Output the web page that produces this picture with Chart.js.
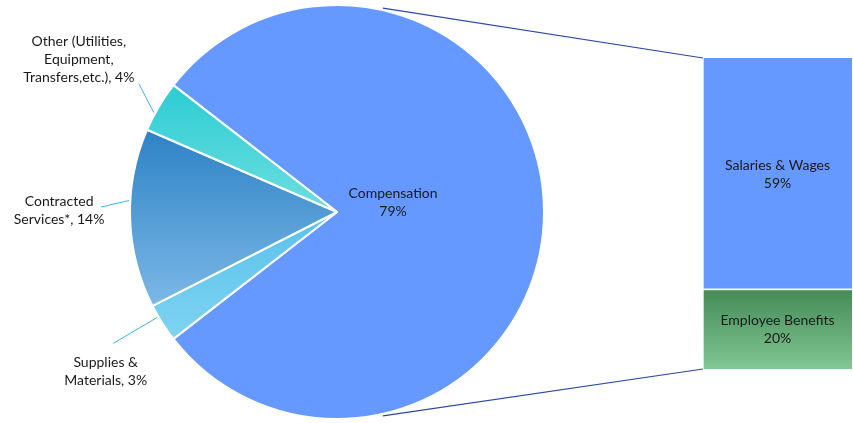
<!DOCTYPE html>
<html>
<head>
<meta charset="utf-8">
<script src="https://cdn.jsdelivr.net/npm/chart.js@4.4.0/dist/chart.umd.min.js"></script>
<style>
  html, body { margin: 0; padding: 0; background: #fff; }
  #wrap { position: relative; width: 853px; height: 423px; }
  #pie { position: absolute; left: 0; top: 0; }
  #bar { position: absolute; left: 703px; top: 58px; }
</style>
</head>
<body>
<div id="wrap">
  <canvas id="pie" width="853" height="423"></canvas>
  <canvas id="bar" width="149" height="311"></canvas>
</div>
<script>
// pie data
const pieLabels = ['Compensation', 'Supplies & Materials', 'Contracted Services*', 'Other (Utilities, Equipment, Transfers,etc.)'];
const pieValues = [79, 3, 14, 4];
const pieLabelLines = [
    ['Compensation', '79%'],
    ['Supplies &', 'Materials, 3%'],
    ['Contracted', 'Services*, 14%'],
    ['Other (Utilities,', 'Equipment,', 'Transfers,etc.), 4%']
];

// bar (breakdown of Compensation) data
const barLabels = ['Employee Benefits', 'Salaries & Wages'];
const barValues = [20, 59];
const barLabelLines = [
    ['Employee Benefits', '20%'],
    ['Salaries & Wages', '59%']
];

const FONT = '14px Lato, "Open Sans", sans-serif';
const TEXT = '#1a1a1a';
const LINE_H = 18;

// [top colour, bottom colour] per slice
const pieColors = [
    ['#6699ff', '#6699ff'],
    ['#58c1ea', '#7fd3f2'],
    ['#2d82c5', '#7cb8e6'],
    ['#2bccd3', '#6edee0']
];
const barColors = [
    ['#458b57', '#80c793'],
    ['#6699ff', '#6699ff']
];

// label placement relative to the slice edge point: text centre, leader start and end
const pieLabelPos = [
    { text: [56, -9.5], inside: true },
    { text: [-56.5, 48.5], leader: [-49, 20.5], end: [-5, -5.5] },
    { text: [-71, -8.5], leader: [-29, -11.5], end: [-1, -18] },
    { text: [-80, -47], leader: [-20, -23], end: [-5, 6] }
];

const total = pieValues.reduce((a, b) => a + b, 0);
const rotation = 90 - pieValues[0] / total * 180;

function drawLines(ctx, lines, cx, cy) {
    ctx.save();
    ctx.font = FONT;
    ctx.fillStyle = TEXT;
    ctx.textAlign = 'center';
    ctx.textBaseline = 'middle';
    const y0 = cy - (lines.length - 1) * LINE_H / 2;
    lines.forEach((t, i) => ctx.fillText(t, cx, y0 + i * LINE_H));
    ctx.restore();
}

function sliceGradient(context) {
    const chart = context.chart;
    const i = context.dataIndex;
    const area = chart.chartArea;
    if (!area || i === undefined) return pieColors[i || 0][0];
    const cx = (area.left + area.right) / 2;
    const cy = (area.top + area.bottom) / 2;
    const r = Math.min(area.right - area.left, area.bottom - area.top) / 2;
    let before = 0;
    for (let k = 0; k < i; k++) before += pieValues[k];
    const s = (rotation - 90) * Math.PI / 180 + before / total * Math.PI * 2;
    const e = s + pieValues[i] / total * Math.PI * 2;
    let minY = cy, maxY = cy;
    for (let k = 0; k <= 40; k++) {
        const y = cy + r * Math.sin(s + (e - s) * k / 40);
        minY = Math.min(minY, y);
        maxY = Math.max(maxY, y);
    }
    const g = chart.ctx.createLinearGradient(0, minY, 0, maxY);
    g.addColorStop(0, pieColors[i][0]);
    g.addColorStop(1, pieColors[i][1]);
    return g;
}

const barLabelPlugin = {
    id: 'barLabels',
    afterDatasetsDraw(chart) {
        chart.data.datasets.forEach((ds, i) => {
            const el = chart.getDatasetMeta(i).data[0];
            drawLines(chart.ctx, barLabelLines[i], el.x, (el.y + el.base) / 2);
        });
    }
};

const barChart = new Chart(document.getElementById('bar'), {
    type: 'bar',
    data: {
        labels: ['Compensation'],
        datasets: barLabels.map((name, i) => ({
            label: name,
            data: [barValues[i]],
            backgroundColor: (context) => {
                const chart = context.chart;
                const y = chart.scales.y;
                if (!chart.chartArea || !y) return barColors[i][0];
                let base = 0;
                for (let k = 0; k < i; k++) base += barValues[k];
                const g = chart.ctx.createLinearGradient(0, y.getPixelForValue(base + barValues[i]), 0, y.getPixelForValue(base));
                g.addColorStop(0, barColors[i][0]);
                g.addColorStop(1, barColors[i][1]);
                return g;
            },
            borderColor: '#ffffff',
            borderWidth: i === 1 ? { bottom: 2, left: 1, top: 0, right: 0 } : { left: 1, top: 0, right: 0, bottom: 0 },
            borderSkipped: false,
            barPercentage: 1,
            categoryPercentage: 1
        }))
    },
    options: {
        responsive: false,
        animation: false,
        layout: { padding: 0 },
        scales: {
            x: { display: false, stacked: true },
            y: { display: false, stacked: true, min: 0, max: barValues.reduce((a, b) => a + b, 0) }
        },
        plugins: { legend: { display: false }, tooltip: { enabled: false } }
    },
    plugins: [barLabelPlugin]
});

const pieDecor = {
    id: 'pieDecor',
    afterDatasetsDraw(chart) {
        const ctx = chart.ctx;
        const arcs = chart.getDatasetMeta(0).data;
        const cx = arcs[0].x, cy = arcs[0].y, r = arcs[0].outerRadius;

        // slice labels and leader lines
        arcs.forEach((arc, i) => {
            const mid = (arc.startAngle + arc.endAngle) / 2;
            const pos = pieLabelPos[i];
            if (pos.inside) {
                drawLines(ctx, pieLabelLines[i], cx + pos.text[0], cy + pos.text[1]);
                return;
            }
            const ex = cx + Math.cos(mid) * r;
            const ey = cy + Math.sin(mid) * r;
            ctx.save();
            ctx.strokeStyle = '#3fb4e6';
            ctx.lineWidth = 1;
            ctx.beginPath();
            ctx.moveTo(ex + pos.leader[0], ey + pos.leader[1]);
            ctx.lineTo(ex + pos.end[0], ey + pos.end[1]);
            ctx.stroke();
            ctx.restore();
            drawLines(ctx, pieLabelLines[i], ex + pos.text[0], ey + pos.text[1]);
        });

        // connector lines from the pie to the breakdown bar
        const barCanvas = barChart.canvas;
        const top = barChart.getDatasetMeta(barLabels.length - 1).data[0];
        const bottom = barChart.getDatasetMeta(0).data[0];
        const left = barCanvas.offsetLeft + top.x - top.width / 2;
        const a = 77.3 * Math.PI / 180;
        ctx.save();
        ctx.strokeStyle = '#2a48a8';
        ctx.lineWidth = 1.2;
        ctx.beginPath();
        ctx.moveTo(cx + Math.cos(-a) * (r + 2), cy + Math.sin(-a) * (r + 2));
        ctx.lineTo(left, barCanvas.offsetTop + top.y);
        ctx.moveTo(cx + Math.cos(a) * (r + 2), cy + Math.sin(a) * (r + 2));
        ctx.lineTo(left, barCanvas.offsetTop + bottom.base);
        ctx.stroke();
        ctx.restore();
    }
};

new Chart(document.getElementById('pie'), {
    type: 'pie',
    data: {
        labels: pieLabels,
        datasets: [{
            data: pieValues,
            backgroundColor: sliceGradient,
            borderColor: '#ffffff',
            borderWidth: 2
        }]
    },
    options: {
        responsive: false,
        animation: false,
        rotation: rotation,
        layout: { padding: { top: 4, bottom: 3, left: 0, right: 179 } },
        plugins: { legend: { display: false }, tooltip: { enabled: false } }
    },
    plugins: [pieDecor]
});
</script>
</body>
</html>
